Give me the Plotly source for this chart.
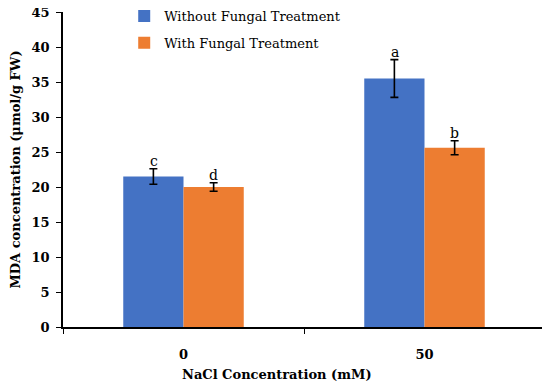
import plotly.graph_objects as go

categories = ["0", "50"]
without_vals = [21.5, 35.5]
without_err = [1.1, 2.7]
with_vals = [20.0, 25.6]
with_err = [0.6, 1.0]
without_letters = ["c", "a"]
with_letters = ["d", "b"]

FONT = "DejaVu Serif"
BLUE = "#4472C4"
ORANGE = "#ED7D31"

fig = go.Figure()
fig.add_trace(go.Bar(
    x=categories, y=without_vals, name="Without Fungal Treatment",
    marker=dict(color=BLUE, line=dict(width=0)),
    error_y=dict(type="data", array=without_err, color="black", thickness=1.6, width=4),
    offsetgroup="a", legendgroup="a",
))
fig.add_trace(go.Bar(
    x=categories, y=with_vals, name="With Fungal Treatment",
    marker=dict(color=ORANGE, line=dict(width=0)),
    error_y=dict(type="data", array=with_err, color="black", thickness=1.6, width=4),
    offsetgroup="b", legendgroup="b",
))

for i, c in enumerate(categories):
    fig.add_annotation(x=i, y=without_vals[i] + without_err[i], text=without_letters[i],
                       xref="x", yref="y", showarrow=False, yshift=8, xshift=-30,
                       font=dict(family=FONT, size=14, color="black"))
    fig.add_annotation(x=i, y=with_vals[i] + with_err[i], text=with_letters[i],
                       xref="x", yref="y", showarrow=False, yshift=8, xshift=30,
                       font=dict(family=FONT, size=14, color="black"))

fig.add_annotation(x=0.445, y=-0.152, xref="paper", yref="paper", yanchor="middle",
                   text="<b>NaCl Concentration (mM)</b>", showarrow=False,
                   font=dict(family=FONT, size=13, color="black"))

# page has an 8px body margin, so the figure is sized to fit the window
fig.update_layout(
    width=542, height=375,
    margin=dict(l=55, r=5, t=4, b=56, autoexpand=False),
    paper_bgcolor="white", plot_bgcolor="white",
    barmode="group", bargap=0.5, bargroupgap=0,
    font=dict(family=FONT, size=13, color="black"),
    showlegend=True,
    legend=dict(x=0.127, y=1.035, xanchor="left", yanchor="top",
                font=dict(family=FONT, size=13, color="black"),
                bgcolor="rgba(0,0,0,0)", traceorder="grouped", tracegroupgap=7,
                itemwidth=30),
    xaxis=dict(
        type="category", automargin=False,
        showline=True, linecolor="black", linewidth=1.5,
        ticks="outside", tickson="boundaries", ticklen=5, tickcolor="black",
        ticklabelstandoff=15,
        tickfont=dict(family=FONT, size=13, color="black", weight="bold"),
        showgrid=False, zeroline=False,
    ),
    yaxis=dict(
        range=[0, 45], dtick=5, tick0=0, automargin=False,
        showline=True, linecolor="black", linewidth=1.5,
        ticks="outside", ticklen=5, tickcolor="black",
        ticklabelstandoff=4, ticklabeloverflow="allow",
        tickfont=dict(family=FONT, size=13, color="black", weight="bold"),
        showgrid=False, zeroline=False,
        title=dict(text="<b>MDA concentration (μmol/g FW)</b>", standoff=14,
                   font=dict(family=FONT, size=13, color="black")),
    ),
)

fig.write_html("out.html")
